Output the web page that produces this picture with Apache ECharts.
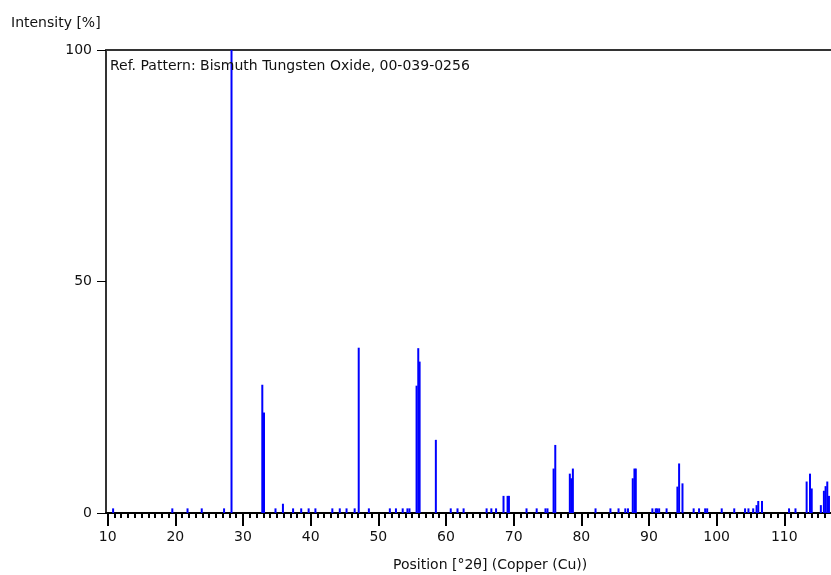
<!DOCTYPE html>
<html>
<head>
<meta charset="utf-8">
<script src="https://cdn.jsdelivr.net/npm/echarts@6/dist/echarts.min.js"></script>
<style>
    html, body { margin: 0; padding: 0; background: #fff; }
    #main { width: 831px; height: 575px; }
</style>
</head>
<body>
<div id="main"></div>
<script>
    // peak positions [°2θ] and relative intensities [%]
    var positions = [10.8, 19.55, 21.8, 23.9, 27.2, 28.3, 32.85, 33.1, 34.8, 35.9,
        37.4, 38.6, 39.7, 40.7, 43.2, 44.3, 45.3, 46.5, 47.1, 48.6,
        51.7, 52.6, 53.6, 54.3, 54.6, 55.65, 55.9, 56.1, 58.5, 60.7,
        61.7, 62.6, 66.0, 66.7, 67.4, 68.5, 69.1, 69.3, 71.9, 73.4,
        74.7, 75.0, 75.9, 76.15, 78.3, 78.5, 78.75, 82.1, 84.3, 85.5,
        86.5, 86.9, 87.6, 87.85, 88.05, 90.5, 91.0, 91.2, 91.5, 92.6,
        94.2, 94.45, 94.95, 96.6, 97.4, 98.3, 98.6, 100.75, 102.6, 104.2,
        104.7, 105.4, 105.9, 106.15, 106.7, 110.7, 111.65, 113.3, 113.8, 114.05,
        115.4, 115.85, 116.1, 116.35, 116.6];
    var intensities = [1, 1, 1, 1, 1, 100, 27.7, 21.7, 1, 2,
        1, 1, 1, 1, 1, 1, 1, 1, 35.7, 1,
        1, 1, 1, 1, 1, 27.5, 35.6, 32.7, 15.8, 1,
        1, 1, 1, 1, 1, 3.7, 3.7, 3.7, 1, 1,
        1, 1, 9.6, 14.7, 8.5, 7.5, 9.6, 1, 1, 1,
        1, 1, 7.5, 9.6, 9.6, 1, 1, 1, 1, 1,
        5.7, 10.7, 6.4, 1, 1, 1, 1, 1, 1, 1,
        1, 1, 1.7, 2.6, 2.6, 1, 1, 6.8, 8.5, 5.3,
        1.7, 4.8, 5.8, 6.8, 3.7];

    var xMajorTicks = [10, 20, 30, 40, 50, 60, 70, 80, 90, 100, 110];
    var xMinorTicks = [];
    for (var t = 10; t <= 116; t++) {
        if (t % 10 != 0) xMinorTicks.push(t);
    }
    var yTicks = [0, 50, 100];

    var peaks = [];
    for (var i = 0; i < positions.length; i++) {
        peaks.push([positions[i], intensities[i]]);
    }

    var txt = '#111';
    var font = '"DejaVu Sans", Tahoma, sans-serif';

    var myChart = echarts.init(document.getElementById('main'), null, { renderer: 'canvas' });
    var option = {
        animation: false,
        backgroundColor: '#ffffff',
        title: [
            {
                text: 'Intensity [%]',
                left: 11, top: 16, padding: 0,
                textStyle: { fontSize: 14, fontWeight: 'normal', color: txt, fontFamily: font }
            },
            {
                text: 'Ref. Pattern: Bismuth Tungsten Oxide, 00-039-0256',
                left: 110, top: 59, padding: 0,
                textStyle: { fontSize: 14, fontWeight: 'normal', color: txt, fontFamily: font }
            },
            {
                text: 'Position [°2θ] (Copper (Cu))',
                left: 393, top: 558, padding: 0,
                textStyle: { fontSize: 14, fontWeight: 'normal', color: txt, fontFamily: font }
            }
        ],
        grid: { left: 106, right: 0, top: 50, bottom: 62 },
        xAxis: [
            {
                type: 'value',
                min: 9.75, max: 116.9,
                position: 'bottom',
                splitLine: { show: false },
                axisLine: { lineStyle: { color: '#000', width: 2 } },
                axisTick: { customValues: xMajorTicks, length: 13, lineStyle: { color: '#000', width: 2 } },
                axisLabel: { customValues: xMajorTicks, margin: 17, fontSize: 14, color: txt, fontFamily: font }
            },
            {
                type: 'value',
                min: 9.75, max: 116.9,
                position: 'bottom',
                splitLine: { show: false },
                axisLine: { show: false },
                axisTick: { customValues: xMinorTicks, length: 5, lineStyle: { color: '#000', width: 2 } },
                axisLabel: { show: false }
            },
            {
                type: 'value',
                min: 9.75, max: 116.9,
                position: 'top',
                splitLine: { show: false },
                axisLine: { lineStyle: { color: '#333', width: 2 } },
                axisTick: { show: false },
                axisLabel: { show: false }
            }
        ],
        yAxis: {
            type: 'value',
            min: 0, max: 100,
            splitLine: { show: false },
            axisLine: { show: true, lineStyle: { color: '#333', width: 2 } },
            axisTick: { show: true, customValues: yTicks, length: 9, lineStyle: { color: '#000', width: 1 } },
            axisLabel: { customValues: yTicks, margin: 14, fontSize: 14, color: txt, fontFamily: font }
        },
        series: [
            {
                type: 'bar',
                xAxisIndex: 0,
                data: peaks,
                barWidth: 2,
                itemStyle: { color: '#0000ff' },
                silent: true
            }
        ]
    };
    myChart.setOption(option);
</script>
</body>
</html>
